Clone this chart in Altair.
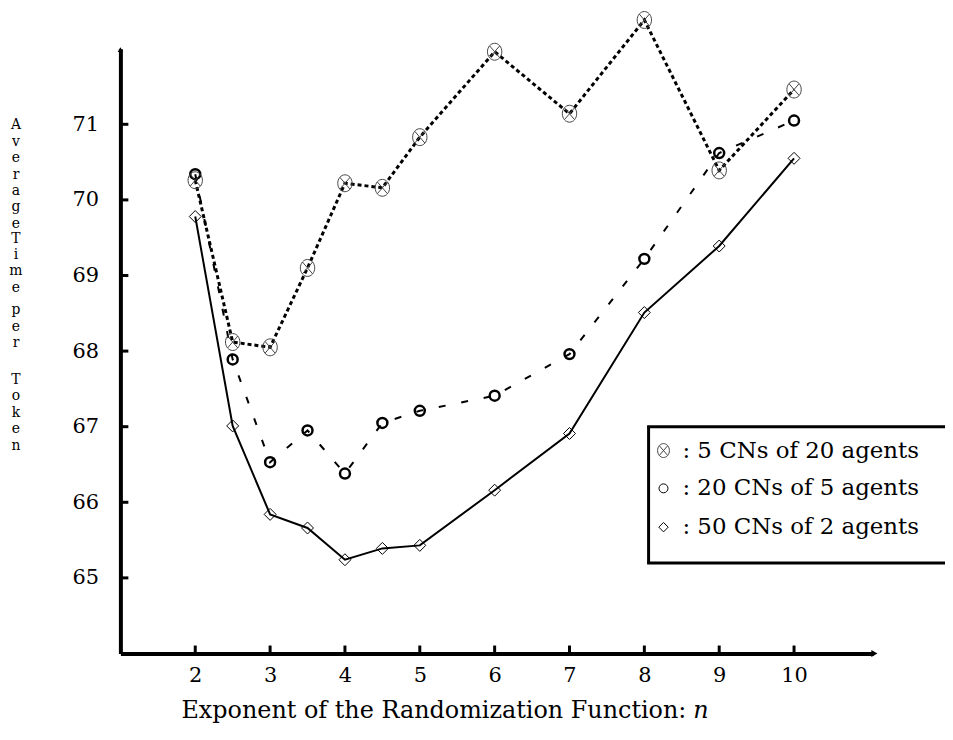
import altair as alt
import pandas as pd

# ---------------- data ----------------
n_values = [2, 2.5, 3, 3.5, 4, 4.5, 5, 6, 7, 8, 9, 10]
series_names = ["5 CNs of 20 agents", "20 CNs of 5 agents", "50 CNs of 2 agents"]
cn5_of_20 = [70.26, 68.12, 68.05, 69.10, 70.22, 70.16, 70.83, 71.96, 71.14, 72.38, 70.39, 71.46]
cn20_of_5 = [70.34, 67.89, 66.53, 66.95, 66.38, 67.05, 67.21, 67.41, 67.96, 69.22, 70.62, 71.05]
cn50_of_2 = [69.78, 67.01, 65.84, 65.66, 65.24, 65.39, 65.43, 66.16, 66.91, 68.51, 69.39, 70.55]
x_ticks = [2, 3, 4, 5, 6, 7, 8, 9, 10]
y_ticks = [65, 66, 67, 68, 69, 70, 71]
x_title = "Exponent of the Randomization Function:"
x_title_var = "n"
y_title_words = ["Average", "Time", "per", "Token"]

rows = []
for name, vals in zip(series_names, [cn5_of_20, cn20_of_5, cn50_of_2]):
    for n, v in zip(n_values, vals):
        rows.append({"n": n, "value": v, "series": name})
df = pd.DataFrame(rows)

W, H = 757, 608
FONT = "DejaVu Serif"
OTIMES = ("M-0.85,0 A0.85,1 0 1,0 0.85,0 A0.85,1 0 1,0 -0.85,0 "
          "M-0.6,-0.7 L0.6,0.7 M-0.6,0.7 L0.6,-0.7")

xscale = alt.Scale(domain=[1, 11.06], nice=False, zero=False)
yscale = alt.Scale(domain=[64, 72], nice=False, zero=False)
X = alt.X("n:Q", scale=xscale, axis=alt.Axis(
    values=x_ticks, ticks=False, grid=False, title=None, domainWidth=4,
    domainColor="black", labelFont=FONT, labelFontSize=21, labelColor="black",
    labelPadding=11))
Y = alt.Y("value:Q", scale=yscale, axis=alt.Axis(
    values=y_ticks, ticks=False, grid=False, title=None, domainWidth=4,
    domainColor="black", labelFont=FONT, labelFontSize=21, labelColor="black",
    labelPadding=22))

base = alt.Chart(df).encode(x=X, y=Y)

def sub(name):
    return base.transform_filter(alt.datum.series == name)

line_c = sub(series_names[2]).mark_line(color="black", strokeWidth=2)
line_b = sub(series_names[1]).mark_line(color="black", strokeWidth=2, strokeDash=[7, 16])
line_a = sub(series_names[0]).mark_line(color="black", strokeWidth=3, strokeDash=[4, 3])

pts_c = sub(series_names[2]).mark_point(shape="diamond", size=144, filled=False,
                                        color="black", strokeWidth=1, opacity=1)
pts_b = sub(series_names[1]).mark_point(shape="circle", size=100, filled=False,
                                        color="black", strokeWidth=2.5, opacity=1)
pts_a = sub(series_names[0]).mark_point(shape=OTIMES, size=289, filled=False,
                                        color="#444444", strokeWidth=1, opacity=1)

xt = alt.Chart(pd.DataFrame({"n": x_ticks})).mark_rule(color="black", strokeWidth=3).encode(
    x=X, y=alt.value(H), y2=alt.value(H - 8))
yt = alt.Chart(pd.DataFrame({"value": y_ticks})).mark_rule(color="black", strokeWidth=3).encode(
    y=Y, x=alt.value(0), x2=alt.value(8))

one = pd.DataFrame({"k": [0]})
arrow_x = alt.Chart(one).mark_point(shape="triangle-right", size=50, filled=True,
                                    color="black", opacity=1).encode(
    x=alt.value(W + 1), y=alt.value(H))
arrow_y = alt.Chart(one).mark_point(shape="triangle-up", size=30, filled=True,
                                    color="black", opacity=1).encode(
    x=alt.value(0), y=alt.value(1))

# x title
xt_main = alt.Chart(one).mark_text(text=x_title, font=FONT, fontSize=24, align="right",
                                   baseline="alphabetic", color="black").encode(
    x=alt.value(569), y=alt.value(673))
xt_var = alt.Chart(one).mark_text(text=x_title_var, font=FONT, fontSize=24, fontStyle="italic",
                                  align="left", baseline="alphabetic", color="black").encode(
    x=alt.value(576), y=alt.value(673))

# y title (stacked letters)
word_pos = [81, 195, 267, 337]
ytitle_layers = []
for word, y0 in zip(y_title_words, word_pos):
    ytitle_layers.append(
        alt.Chart(one).mark_text(text=list(word), font=FONT, fontSize=14, align="center",
                                 baseline="alphabetic", lineHeight=16.5, color="black").encode(
            x=alt.value(-105), y=alt.value(y0)))

# legend (box open on the right, as it runs off the page)
LX0, LX1, LY0, LY1 = 531, 840, 380, 517
legend_fill = alt.Chart(one).mark_rect(fill="white").encode(
    x=alt.value(LX0), x2=alt.value(LX1), y=alt.value(LY0), y2=alt.value(LY1))
legend_top = alt.Chart(one).mark_rule(color="black", strokeWidth=3).encode(
    x=alt.value(LX0 - 1.5), x2=alt.value(LX1), y=alt.value(LY0))
legend_bot = alt.Chart(one).mark_rule(color="black", strokeWidth=3).encode(
    x=alt.value(LX0 - 1.5), x2=alt.value(LX1), y=alt.value(LY1))
legend_left = alt.Chart(one).mark_rule(color="black", strokeWidth=3).encode(
    x=alt.value(LX0), y=alt.value(LY0), y2=alt.value(LY1))
row_y = [404, 442, 481]
leg_syms = [
    dict(shape=OTIMES, size=196, color="#444444", strokeWidth=1),
    dict(shape="circle", size=81, color="black", strokeWidth=1),
    dict(shape="diamond", size=90, color="black", strokeWidth=1),
]
legend_layers = [legend_fill, legend_top, legend_bot, legend_left]
for name, ry, sym in zip(series_names, row_y, leg_syms):
    legend_layers.append(alt.Chart(one).mark_point(filled=False, opacity=1, **sym).encode(
        x=alt.value(546), y=alt.value(ry)))
    legend_layers.append(alt.Chart(one).mark_text(text=": " + name, font=FONT, fontSize=23,
                                                  align="left", baseline="middle",
                                                  color="black").encode(
        x=alt.value(565), y=alt.value(ry)))

chart = alt.layer(
    line_c, line_b, line_a, pts_c, pts_b, pts_a, xt, yt, arrow_x, arrow_y,
    xt_main, xt_var, *ytitle_layers, *legend_layers
).properties(
    width=W, height=H,
    autosize=alt.AutoSizeParams(type="none"),
    padding={"left": 113, "top": 39, "right": 72, "bottom": 75},
    background="white",
).configure_view(stroke=None)

chart.save("out.html", embed_options={"renderer": "svg", "actions": False})
